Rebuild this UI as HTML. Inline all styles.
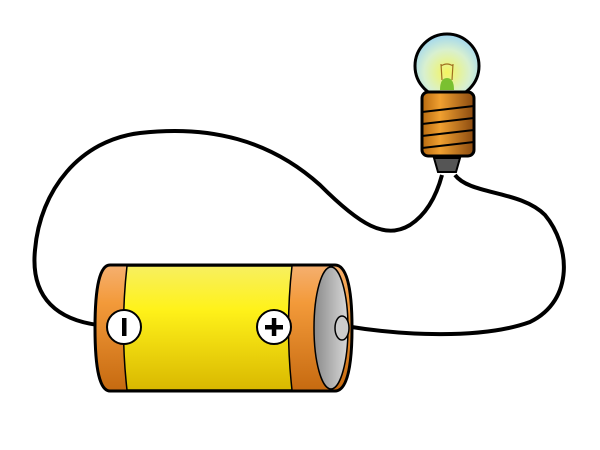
<!DOCTYPE html>
<html><head><meta charset="utf-8"><style>html,body{margin:0;padding:0;background:#fff;width:600px;height:450px;overflow:hidden}</style></head>
<body>
<svg width="600" height="450" viewBox="0 0 600 450">
<defs>
<linearGradient id="yel" x1="0" y1="0" x2="0" y2="1"><stop offset="0" stop-color="#f7ef60"/><stop offset="0.35" stop-color="#fff21a"/><stop offset="1" stop-color="#d9b800"/></linearGradient>
<linearGradient id="org" x1="0" y1="0" x2="0" y2="1"><stop offset="0" stop-color="#f5b070"/><stop offset="0.3" stop-color="#f39a3a"/><stop offset="1" stop-color="#c66a10"/></linearGradient>
<linearGradient id="gry" x1="0" y1="0" x2="1" y2="0"><stop offset="0" stop-color="#8a8a8a"/><stop offset="1" stop-color="#d8d8d8"/></linearGradient>
<radialGradient id="glass" cx="0.5" cy="0.6" r="0.6"><stop offset="0" stop-color="#f4f560"/><stop offset="0.6" stop-color="#d8f0d0"/><stop offset="1" stop-color="#9fd6f0"/></radialGradient>
<linearGradient id="brass" x1="0" y1="0" x2="1" y2="0"><stop offset="0" stop-color="#b86a10"/><stop offset="0.35" stop-color="#f0a030"/><stop offset="1" stop-color="#8a4a10"/></linearGradient>
</defs>
<path d="M98,325 C60,320 30,300 35,250 C40,190 80,140 140,133 C210,125 270,140 320,185 C360,225 385,240 410,225 C430,212 438,190 442,175" fill="none" stroke="#000" stroke-width="4"/>
<path d="M455,175 C470,195 520,190 545,215 C570,245 575,300 530,322 C480,340 400,335 345,326" fill="none" stroke="#000" stroke-width="4"/>
<g>
<path d="M110,265 L335,265 Q352,265 352,328 Q352,391 335,391 L110,391 Q95,391 95,328 Q95,265 110,265 Z" fill="url(#org)" stroke="#000" stroke-width="3"/>
<path d="M127,266 Q120,328 127,390 L292,390 Q285,328 292,266 Z" fill="url(#yel)" stroke="#000" stroke-width="1.5"/>
<ellipse cx="331" cy="328" rx="17" ry="61" fill="url(#gry)" stroke="#000" stroke-width="1.5"/>
<ellipse cx="342" cy="328" rx="7" ry="12" fill="#ccc" stroke="#000" stroke-width="1.5"/>
<circle cx="124" cy="327" r="17" fill="#fff" stroke="#000" stroke-width="2"/>
<rect x="122" y="318" width="4.5" height="18" fill="#000"/>
<circle cx="274" cy="327" r="17" fill="#fff" stroke="#000" stroke-width="2"/>
<rect x="265" y="325" width="18" height="4.5" fill="#000"/><rect x="271.8" y="318" width="4.5" height="18" fill="#000"/>
</g>
<g>
<path d="M434,158 L460,158 L456,172 L438,172 Z" fill="#555" stroke="#000" stroke-width="2"/>
<circle cx="447" cy="66" r="32" fill="url(#glass)" stroke="#000" stroke-width="3"/>
<path d="M440,90 Q440,78 447,78 Q454,78 454,90 Z" fill="#7ac030"/>
<path d="M442,80 L441,64 M452,80 L453,64 M441,66 Q447,62 453,66" stroke="#a07020" stroke-width="1.2" fill="none"/>
<rect x="422" y="92" width="52" height="64" rx="6" fill="url(#brass)" stroke="#000" stroke-width="3"/>
<path d="M422,112 L474,106 M422,124 L474,118 M422,136 L474,130 M422,148 L474,142" stroke="#000" stroke-width="2"/>
</g>
</svg>
</body></html>
